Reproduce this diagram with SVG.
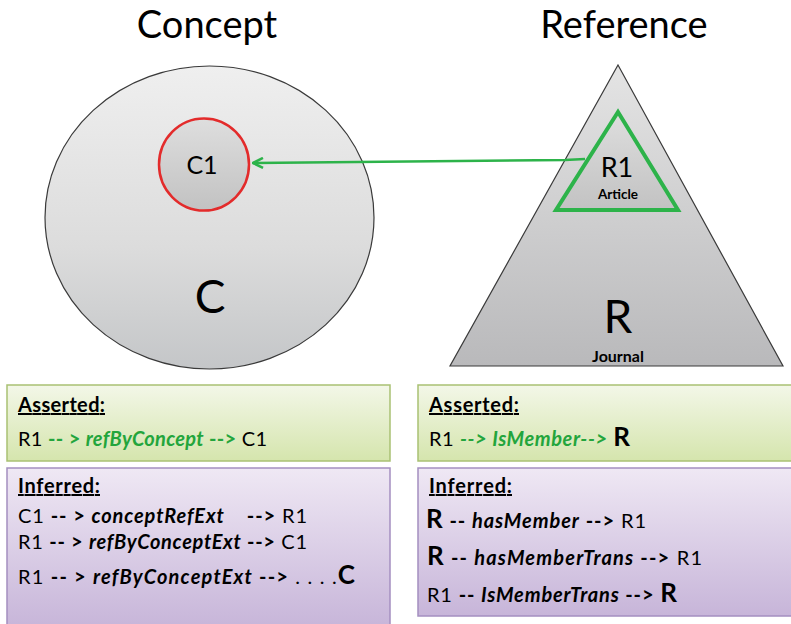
<svg xmlns="http://www.w3.org/2000/svg" width="791" height="624" viewBox="0 0 791 624">
<defs>
<linearGradient id="gCircle" x1="0" y1="0" x2="0" y2="1"><stop offset="0" stop-color="#efefef"/><stop offset="0.6" stop-color="#dcdcdc"/><stop offset="1" stop-color="#c4c6c8"/></linearGradient>
<linearGradient id="gTri" x1="0" y1="0" x2="0" y2="1"><stop offset="0" stop-color="#e4e4e4"/><stop offset="1" stop-color="#b9b9bb"/></linearGradient>
<linearGradient id="gSmall" x1="0" y1="0" x2="0" y2="1"><stop offset="0" stop-color="#dedede"/><stop offset="1" stop-color="#c2c2c2"/></linearGradient>
<linearGradient id="gGreen" x1="0" y1="0" x2="0" y2="1"><stop offset="0" stop-color="#f3f7e8"/><stop offset="1" stop-color="#d5e5ad"/></linearGradient>
<linearGradient id="gPurple" x1="0" y1="0" x2="0" y2="1"><stop offset="0" stop-color="#efe8f4"/><stop offset="1" stop-color="#c7b5d9"/></linearGradient>
<marker id="arrow" viewBox="0 0 12 12" refX="11" refY="6" markerWidth="12" markerHeight="12" markerUnits="userSpaceOnUse" orient="auto"><path d="M1,1 L11,6 L1,11" fill="none" stroke="#2db34a" stroke-width="2.5"/></marker>
</defs>
<style>
text{font-family:Lato,"Open Sans","Liberation Sans",sans-serif;fill:#000}
.title{font-size:38px}
.hdr{font-size:20px;font-weight:bold;text-decoration:underline}
.ln{font-size:20px}
.b{font-weight:bold}
.bi{font-weight:bold;font-style:italic}
.g{fill:#23a53c}
.big{font-size:26px;font-weight:bold}
.boxG{fill:url(#gGreen);stroke:#a9c173;stroke-width:1.5}
.boxP{fill:url(#gPurple);stroke:#a48fc0;stroke-width:1.5}
</style>
<rect width="791" height="624" fill="#fff"/>
<g id="concept">
<text class="title" x="207" y="38" text-anchor="middle">Concept</text>
<ellipse cx="209.5" cy="217.5" rx="164.5" ry="151.5" fill="url(#gCircle)" stroke="#3a3a3a" stroke-width="1.2"/>
<text x="210" y="313" text-anchor="middle" font-size="46">C</text>
</g>
<g id="c1">
<ellipse cx="204" cy="164.5" rx="45" ry="46" fill="url(#gSmall)" stroke="#e32b2b" stroke-width="2.5"/>
<text x="202" y="174" text-anchor="middle" font-size="25">C1</text>
</g>
<g id="reference">
<text class="title" x="624" y="38" text-anchor="middle">Reference</text>
<polygon points="618,65 783,366 450,366" fill="url(#gTri)" stroke="#3a3a3a" stroke-width="1.2"/>
<text x="618" y="333" text-anchor="middle" font-size="46">R</text>
<text x="618" y="362" text-anchor="middle" font-size="16" font-weight="bold">Journal</text>
</g>
<g id="r1">
<polygon points="618,112 678,210 556,210" fill="url(#gSmall)" stroke="#2db34a" stroke-width="4" stroke-linejoin="miter"/>
<text x="617" y="177" text-anchor="middle" font-size="27">R1</text>
<text x="618" y="199" text-anchor="middle" font-size="13.5" font-weight="bold">Article</text>
</g>
<g id="connectors">
<polyline points="585,159 565,160 253,163" fill="none" stroke="#2db34a" stroke-width="2.5" marker-end="url(#arrow)"/>
</g>
<g id="concept-asserted">
<rect class="boxG" x="7" y="385" width="383" height="76"/>
<text class="hdr" x="18" y="412" textLength="87">Asserted<tspan style="text-decoration:none">:</tspan></text>
<text class="ln" x="18" y="446" textLength="249">R1 <tspan class="b g">-- &gt; </tspan><tspan class="bi g">refByConcept</tspan><tspan class="b g"> --&gt;</tspan> C1</text>
</g>
<g id="concept-inferred">
<rect class="boxP" x="7" y="468" width="383" height="160"/>
<text class="hdr" x="18" y="493" textLength="82">Inferred:</text>
<text class="ln" x="18" y="523" textLength="289">C1 <tspan class="b">-- &gt; </tspan><tspan class="bi">conceptRefExt</tspan><tspan class="b" dx="22">--&gt;</tspan> R1</text>
<text class="ln" x="18" y="549" textLength="289">R1 <tspan class="b">-- &gt; </tspan><tspan class="bi">refByConceptExt</tspan><tspan class="b"> --&gt;</tspan> C1</text>
<text class="ln" x="18" y="584" textLength="337">R1 <tspan class="b">-- &gt; </tspan><tspan class="bi">refByConceptExt</tspan><tspan class="b"> --&gt;</tspan> . . . .<tspan font-size="26" font-weight="bold">C</tspan></text>
</g>
<g id="reference-asserted">
<rect class="boxG" x="418" y="385" width="380" height="76"/>
<text class="hdr" x="429" y="412" textLength="90">Asserted:</text>
<text class="ln" x="429" y="446" textLength="201">R1 <tspan class="bi g">--&gt; IsMember--&gt;</tspan> <tspan class="big">R</tspan></text>
</g>
<g id="reference-inferred">
<rect class="boxP" x="418" y="468" width="380" height="148"/>
<text class="hdr" x="429" y="493" textLength="83">Inferred:</text>
<text class="ln" x="426" y="528" textLength="220"><tspan class="big">R</tspan><tspan class="b"> -- </tspan><tspan class="bi">hasMember</tspan><tspan class="b"> --&gt;</tspan> R1</text>
<text class="ln" x="427" y="565" textLength="275"><tspan class="big">R</tspan><tspan class="b"> --  </tspan><tspan class="bi">hasMemberTrans</tspan><tspan class="b"> --&gt;</tspan> R1</text>
<text class="ln" x="427" y="602" textLength="250">R1 <tspan class="b">-- </tspan><tspan class="bi">IsMemberTrans</tspan><tspan class="b"> --&gt;</tspan> <tspan class="big">R</tspan></text>
</g>
</svg>
